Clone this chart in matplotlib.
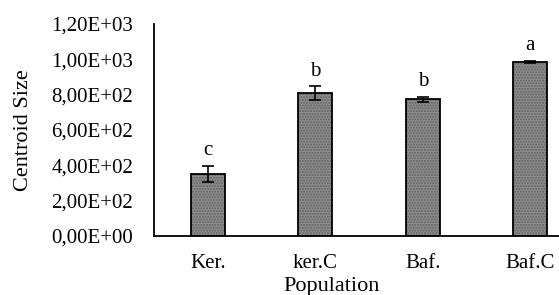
import numpy as np
import matplotlib.pyplot as plt

# data
populations = ["Ker.", "ker.C", "Baf.", "Baf.C"]
centroid = [352, 808, 775, 985]
errors = [45, 40, 14, 6]
letters = ["c", "b", "b", "a"]
yticks = [0, 200, 400, 600, 800, 1000, 1200]
ytick_labels = ["0,00E+00", "2,00E+02", "4,00E+02", "6,00E+02",
                "8,00E+02", "1,00E+03", "1,20E+03"]

plt.rcParams['font.family'] = ['Liberation Serif', 'DejaVu Serif']

fig = plt.figure(figsize=(5.59, 2.95), dpi=100)
# plot area: left edge at 154 px, bottom 236 px, top 24 px; right side runs off the picture
ax = fig.add_axes([154 / 559, (295 - 236) / 295, (559 - 154) / 559, (236 - 24) / 295])

x = np.arange(len(populations))
w = 0.32
ax.bar(x, centroid, width=w, color='#8e8e8e', hatch='......', edgecolor='#606060', linewidth=0)
ax.bar(x, centroid, width=w, fill=False, edgecolor='black', linewidth=1.3)
ax.errorbar(x, centroid, yerr=errors, fmt='none', ecolor='black', elinewidth=1.2,
            capsize=4, capthick=1.2)

for xi, v, e, t in zip(x, centroid, errors, letters):
    ax.text(xi, v + e + 85, t, ha='center', va='center', fontsize=15)

ax.set_xlim(-0.5, 3.5 - 25 / 107.5)
ax.set_ylim(0, 1200)
ax.set_yticks(yticks)
ax.set_yticklabels(ytick_labels)
ax.set_xticks(x)
ax.set_xticklabels(populations)
ax.tick_params(axis='y', length=0, pad=15, labelsize=15)
ax.tick_params(axis='x', length=0, pad=13, labelsize=15)

for s in ['top', 'right']:
    ax.spines[s].set_visible(False)
for s in ['left', 'bottom']:
    ax.spines[s].set_linewidth(1.3)

fig.text(24 / 559, 1 - 130 / 295, "Centroid Size", rotation=90, ha='center', va='center',
         fontsize=16)
fig.text(332 / 559, 1 - 286 / 295, "Population", ha='center', va='center', fontsize=16)

fig.savefig("out.png", dpi=100)
